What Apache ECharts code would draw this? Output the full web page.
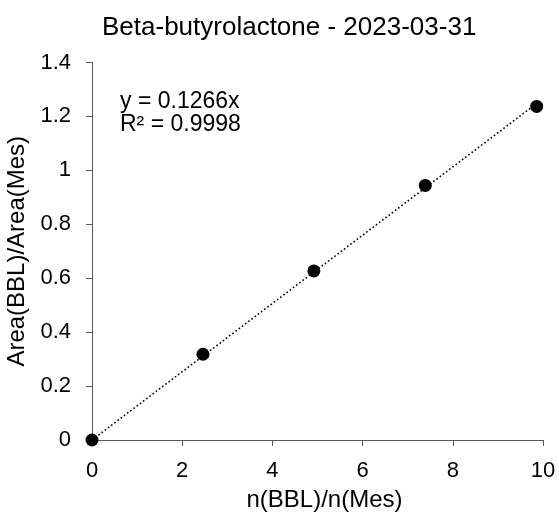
<!DOCTYPE html>
<html>
<head>
<meta charset="utf-8">
<script src="https://cdn.jsdelivr.net/npm/echarts@6/dist/echarts.min.js"></script>
<style>html,body{margin:0;padding:0;background:#fff;}#c{width:559px;height:514px;}</style>
</head>
<body>
<div id="c"></div>
<script>
const titleText = "Beta-butyrolactone - 2023-03-31";
const xName = "n(BBL)/n(Mes)";
const yName = "Area(BBL)/Area(Mes)";
const xValues = [0, 2.46, 4.92, 7.39, 9.86];
const yValues = [0, 0.318, 0.627, 0.944, 1.237];
const slope = 0.1266;
const trendX = [0, 9.86];
const equationLines = ["y = 0.1266x", "R² = 0.9998"];

const FONT = "Liberation Sans, Arial, sans-serif";
const chart = echarts.init(document.getElementById('c'));
const points = xValues.map((x, i) => [x, yValues[i]]);
const trend = trendX.map(x => [x, slope * x]);
chart.setOption({
  animation: false,
  backgroundColor: '#fff',
  title: {
    text: titleText, left: 102, top: 15, padding: 0,
    textStyle: { fontFamily: FONT, fontSize: 26, fontWeight: 'normal', color: '#000' }
  },
  grid: { left: 92, right: 16, top: 62.5, bottom: 74, containLabel: false, outerBoundsMode: 'none' },
  xAxis: {
    type: 'value', min: 0, max: 10, interval: 2,
    name: xName, nameLocation: 'middle', nameGap: 48,
    nameTextStyle: { fontFamily: FONT, fontSize: 24, color: '#000', padding: [0, 0, 0, 14] },
    axisLine: { lineStyle: { color: '#595959', width: 1 } },
    axisTick: { show: true, inside: false, length: 6, lineStyle: { color: '#595959' } },
    axisLabel: { fontFamily: FONT, fontSize: 22, color: '#000', margin: 20 },
    splitLine: { show: false }
  },
  yAxis: {
    type: 'value', min: 0, max: 1.4, interval: 0.2,
    name: yName, nameLocation: 'middle', nameGap: 57, nameRotate: 90,
    nameTextStyle: { fontFamily: FONT, fontSize: 24, color: '#000' },
    axisLine: { show: true, lineStyle: { color: '#595959', width: 1 } },
    axisTick: { show: true, inside: false, length: 6, lineStyle: { color: '#595959' } },
    axisLabel: { fontFamily: FONT, fontSize: 22, color: '#000', margin: 21 },
    splitLine: { show: false }
  },
  series: [
    {
      type: 'line', data: trend, symbol: 'none', silent: true,
      lineStyle: { color: '#000', width: 1.6, type: [1.6, 2.4] }, z: 1
    },
    {
      type: 'scatter', data: points, symbol: 'circle', symbolSize: 13,
      itemStyle: { color: '#000', opacity: 1 }, z: 2
    }
  ],
  graphic: [{
    type: 'text', left: 120, top: 90,
    style: { text: equationLines.join('\n'), fontFamily: FONT, fontSize: 23, lineHeight: 23, fill: '#000' }
  }]
});
</script>
</body>
</html>
